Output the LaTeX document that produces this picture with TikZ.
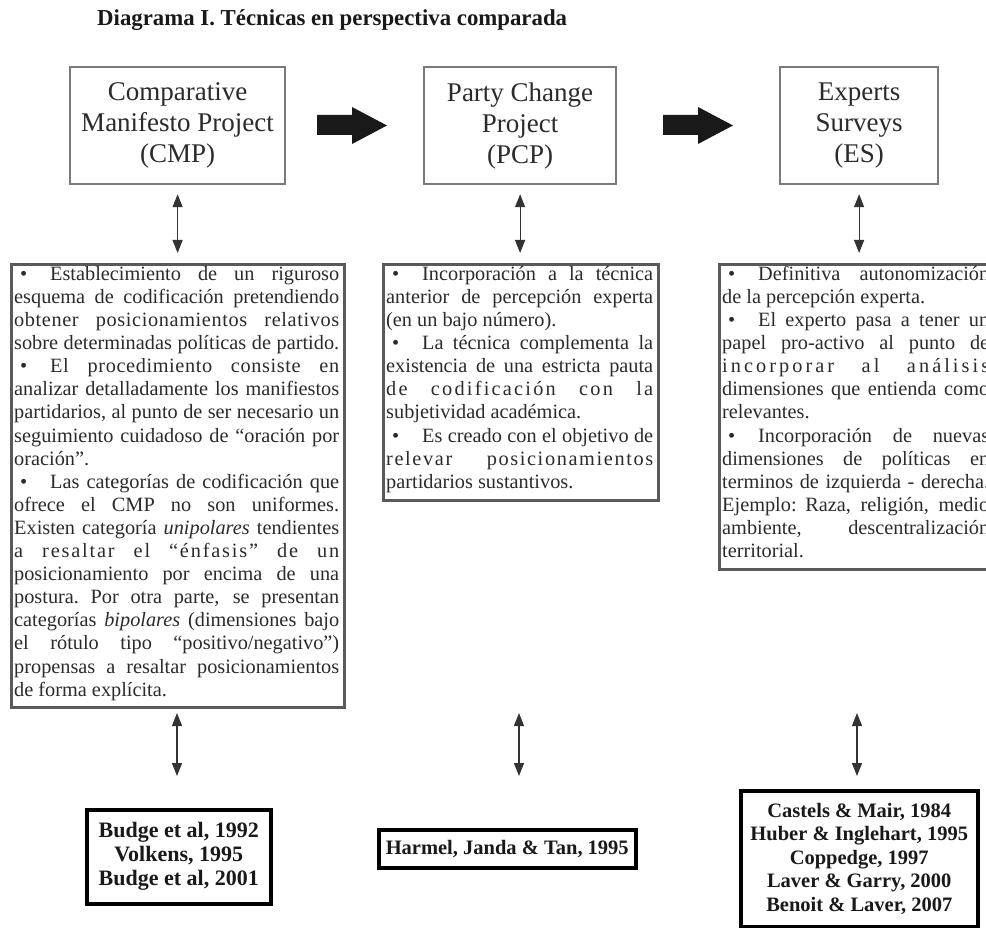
\documentclass[tikz,border=0pt]{standalone}
\usepackage{fontspec}
\setmainfont{Liberation Serif}
\usetikzlibrary{arrows.meta,calc}
\definecolor{txt}{HTML}{2B2B2B}
\definecolor{frame}{HTML}{7A7A7A}
\definecolor{tframe}{HTML}{5A5A5A}
\newcommand\bodyfont{\fontsize{20.3}{23.1}\selectfont\spaceskip=0.25em plus 2em minus 0.2em\xspaceskip=\spaceskip\hbadness=10000\hfuzz=40pt}
\newcommand\BL[1]{\hbox to\hsize{\strut\hbox to 36pt{\hskip6pt•\hfil}#1}}
\newcommand\BLS[2]{\hbox to\hsize{\strut\hbox to 36pt{\hskip6pt•\hfil}\addfontfeature{LetterSpace=#1}#2}}
\newcommand\JL[1]{\hbox to\hsize{\strut#1}}
\newcommand\SL[2]{\hbox to\hsize{\strut\addfontfeature{LetterSpace=#1}#2}}
\newcommand\LL[1]{\hbox to\hsize{\strut#1\hfil}}
\tikzset{
  cbox/.style={draw=frame, line width=2.2pt, align=center, text=txt, inner sep=0pt,
    font=\fontsize{27}{31}\selectfont, anchor=north west},
  tbox/.style={draw=tframe, line width=2.8pt, inner sep=0pt, anchor=north west},
  ttext/.style={anchor=north west, inner sep=0pt, text=txt},
  rbox/.style={draw=black, line width=3.5pt, align=center, inner sep=0pt, text=black!90,
    anchor=north west},
  dbl/.style={{Triangle[length=13pt,width=10pt]}-{Triangle[length=13pt,width=10pt]},
    line width=1.2pt, draw=black!80},
  fat/.style={fill=black!90}
}
\begin{document}
\begin{tikzpicture}[x=1pt,y=-1pt]
\useasboundingbox (0,0) rectangle (986,928);
\clip (0,0) rectangle (986,928);
\fill[white] (0,0) rectangle (986,928);

% title
\node[anchor=west, inner sep=0pt, font=\fontsize{22.8}{26}\selectfont\bfseries, text=black!90] (title) at (97,20)
  {Diagrama I. Técnicas en perspectiva comparada};

% top boxes
\node[cbox, minimum width=215pt, minimum height=117pt] (c1) at (69,66) {Comparative\\Manifesto Project\\(CMP)};
\node[cbox, minimum width=192pt, minimum height=117pt] (c2) at (423,66) {Party Change\\Project\\(PCP)};
\node[cbox, minimum width=158pt, minimum height=117pt] (c3) at (779,66) {Experts\\Surveys\\(ES)};

% fat arrows
\fill[fat] (317,115) -- (352,115) -- (352,107) -- (387,125.5) -- (352,144) -- (352,135) -- (317,135) -- cycle;
\fill[fat] (663,115) -- (698,115) -- (698,107) -- (733,125.5) -- (698,144) -- (698,135) -- (663,135) -- cycle;

% text boxes
\node[tbox, minimum width=333pt, minimum height=443pt] (b1) at (10,263) {};
\node[tbox, minimum width=275pt, minimum height=236pt] (b2) at (382,263) {};
\node[tbox, minimum width=275pt, minimum height=305pt] (b3) at (718,263) {};

\node[ttext] (b1t) at (14,264) {\vbox{\hsize=325pt\bodyfont
\BL{Establecimiento de un riguroso}
\JL{esquema de codificación pretendiendo}
\SL{3}{obtener posicionamientos relativos}
\JL{sobre determinadas políticas de partido.}
\BLS{3}{El procedimiento consiste en}
\JL{analizar detalladamente los manifiestos}
\JL{partidarios, al punto de ser necesario un}
\JL{seguimiento cuidadoso de “oración por}
\LL{oración”.}
\BL{Las categorías de codificación que}
\JL{ofrece el CMP no son uniformes.}
\JL{Existen categoría \textit{unipolares} tendientes}
\SL{9}{a resaltar el “énfasis” de un}
\JL{posicionamiento por encima de una}
\JL{postura. Por otra parte, se presentan}
\JL{categorías \textit{bipolares} (dimensiones bajo}
\JL{el rótulo tipo “positivo/negativo”)}
\JL{propensas a resaltar posicionamientos}
\LL{de forma explícita.}
}};

\node[ttext] (b2t) at (386,264) {\vbox{\hsize=267pt\bodyfont
\BL{Incorporación a la técnica}
\JL{anterior de percepción experta}
\LL{(en un bajo número).}
\BL{La técnica complementa la}
\JL{existencia de una estricta pauta}
\SL{11}{de codificación con la}
\LL{subjetividad académica.}
\BL{Es creado con el objetivo de}
\SL{8}{relevar posicionamientos}
\LL{partidarios sustantivos.}
}};

\node[ttext] (b3t) at (722,264) {\vbox{\hsize=267pt\bodyfont
\BL{Definitiva autonomización}
\LL{de la percepción experta.}
\BL{El experto pasa a tener un}
\JL{papel pro-activo al punto de}
\SL{15}{incorporar al análisis}
\JL{dimensiones que entienda como}
\LL{relevantes.}
\BL{Incorporación de nuevas}
\JL{dimensiones de políticas en}
\JL{terminos de izquierda - derecha.}
\JL{Ejemplo: Raza, religión, medio}
\JL{ambiente, descentralización}
\LL{territorial.}
}};

% bottom boxes
\node[rbox, minimum width=184pt, minimum height=94pt, font=\fontsize{22}{24}\selectfont\bfseries] (r1) at (85,808)
  {Budge et al, 1992\\Volkens, 1995\\Budge et al, 2001};
\node[rbox, minimum width=257pt, minimum height=38pt, font=\fontsize{20.5}{23.5}\selectfont\bfseries] (r2) at (377,828)
  {Harmel, Janda \& Tan, 1995};
\node[rbox, minimum width=237pt, minimum height=136pt, font=\fontsize{20.5}{23.5}\selectfont\bfseries] (r3) at (739,789)
  {Castels \& Mair, 1984\\Huber \& Inglehart, 1995\\Coppedge, 1997\\Laver \& Garry, 2000\\Benoit \& Laver, 2007};

% upper double arrows
\draw[dbl, shorten <=9pt, shorten >=10pt] (c1.south) -- (c1.south |- b1.north);
\draw[dbl, shorten <=9pt, shorten >=10pt] (c2.south) -- (c2.south |- b2.north);
\draw[dbl, shorten <=9pt, shorten >=10pt] (c3.south) -- (c3.south |- b3.north);

% lower double arrows
\coordinate (l1a) at (177,713); \coordinate (l1b) at (177,776);
\coordinate (l2a) at (519,713); \coordinate (l2b) at (519,776);
\coordinate (l3a) at (857,713); \coordinate (l3b) at (857,776);
\draw[dbl] (l1a) -- (l1b);
\draw[dbl] (l2a) -- (l2b);
\draw[dbl] (l3a) -- (l3b);
\end{tikzpicture}
\end{document}
